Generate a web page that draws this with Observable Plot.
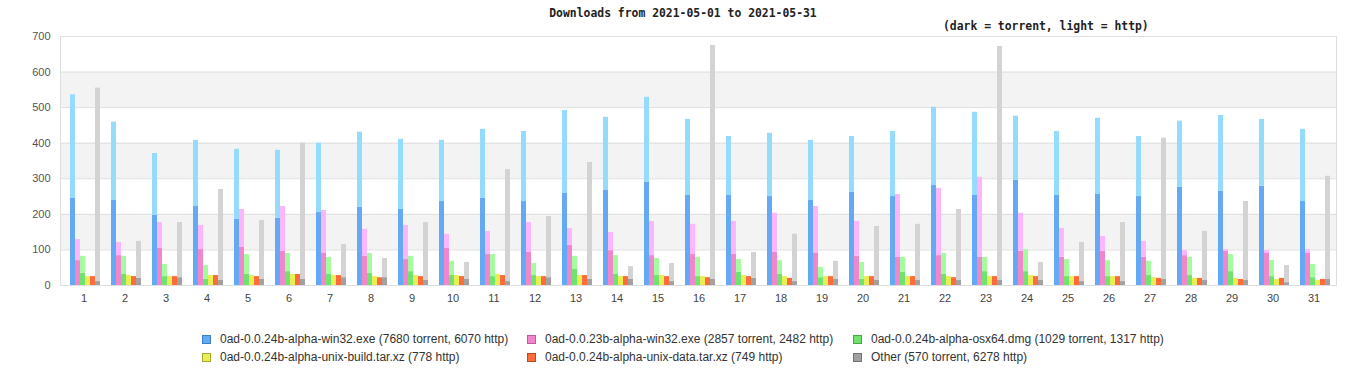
<!DOCTYPE html>
<html>
<head>
<meta charset="utf-8">
<script src="https://cdn.jsdelivr.net/npm/d3@7"></script>
<script src="https://cdn.jsdelivr.net/npm/@observablehq/plot@0.6"></script>
<style>
  html, body { margin: 0; padding: 0; background: #fff; }
  #wrap { position: relative; width: 1366px; height: 380px; overflow: hidden; }
  .title { position: absolute; left: 0; width: 1366px; top: 6px; text-align: center; z-index: 3;
    font: bold 11.4px "DejaVu Sans Mono", "Liberation Mono", monospace; line-height: 14px; color: #222; }
  .subtitle { position: absolute; left: 943px; top: 19px; z-index: 3;
    font: bold 11.4px "DejaVu Sans Mono", "Liberation Mono", monospace; line-height: 14px; color: #222; white-space: nowrap; }
  .layer { position: absolute; left: 0; top: 30px; }
  #bg { z-index: 1; }
  #fg { z-index: 2; }
  #legend { position: absolute; left: 202px; top: 330px; display: grid;
    grid-template-columns: 325px 326px 330px; grid-auto-rows: 18px;
    font: 12px "Liberation Sans", Arial, sans-serif; color: #333; }
  #legend .item { display: flex; align-items: center; white-space: nowrap; line-height: 18px; }
  #legend .sw { width: 7px; height: 7px; border: 1px solid; margin-right: 9px; flex: none; }
</style>
</head>
<body>
<div id="wrap">
  <div class="title" id="title"></div>
  <div class="subtitle" id="subtitle"></div>
  <div class="layer" id="bg"></div>
  <div class="layer" id="fg"></div>
  <div id="legend"></div>
</div>
<script>
const titleText = "Downloads from 2021-05-01 to 2021-05-31";
const subtitleText = "(dark = torrent, light = http)";

const days = d3.range(1, 32);
const yTicks = [0, 100, 200, 300, 400, 500, 600, 700];
const bandRanges = [[100, 200], [300, 400], [500, 600]];

const seriesIds = ["win32", "win32old", "osx64", "unixbuild", "unixdata", "other"];

const win32Torrent = [246,239,197,222,186,189,205,220,214,236,245,236,259,267,290,253,253,250,239,262,250,281,253,296,253,256,250,276,265,279,236];
const win32Http    = [290,220,174,186,197,191,195,211,197,172,194,197,233,206,239,214,166,178,169,157,183,220,234,180,180,214,169,186,213,188,203];

const win32oldTorrent = [70,84,104,101,107,96,90,82,73,104,87,93,113,98,84,87,87,93,90,82,79,84,79,96,79,96,79,84,96,90,90];
const win32oldHttp    = [59,37,73,68,107,126,121,76,96,40,65,84,47,51,96,85,93,110,132,98,177,189,225,107,81,42,45,14,5,8,11];

const osx64Torrent = [35,31,25,17,31,39,31,34,39,28,25,28,45,31,28,25,37,31,22,17,37,31,39,39,25,25,28,28,39,25,22];
const osx64Http    = [47,51,34,39,56,51,48,56,43,40,62,34,37,53,48,54,36,39,29,48,42,59,40,62,48,45,40,51,48,45,37];

const unixBuildHttp = [25,28,25,28,28,31,28,25,28,28,31,25,28,25,28,25,28,25,25,25,25,25,25,28,25,25,22,20,20,17,14];
const unixDataHttp  = [25,25,25,28,25,31,28,22,25,25,28,25,28,25,25,22,25,20,25,25,25,22,25,25,25,25,20,20,17,20,17];

const otherTorrent = [11,20,22,14,17,17,22,22,14,17,11,22,17,17,11,17,20,11,17,14,14,14,14,14,11,11,17,14,14,8,17];
const otherHttp    = [544,104,155,256,166,383,93,54,163,48,315,172,329,36,51,658,73,133,51,152,158,200,658,51,110,166,397,138,222,48,290];

const legendLabels = [
  "0ad-0.0.24b-alpha-win32.exe (7680 torrent, 6070 http)",
  "0ad-0.0.23b-alpha-win32.exe (2857 torrent, 2482 http)",
  "0ad-0.0.24b-alpha-osx64.dmg (1029 torrent, 1317 http)",
  "0ad-0.0.24b-alpha-unix-build.tar.xz (778 http)",
  "0ad-0.0.24b-alpha-unix-data.tar.xz (749 http)",
  "Other (570 torrent, 6278 http)"
];

const colorKeys  = ["win32 torrent","win32 http","win32old torrent","win32old http","osx64 torrent","osx64 http","unixbuild http","unixdata http","other torrent","other http"];
const colorRange = ["#63a9f3","#94dbfe","#f286cd","#fdb6fd","#6ee46f","#a3fd9e","#e9ed56","#fd6d3b","#a1a1a1","#d3d3d3"];
const swatchFill   = ["#63a9f3","#f286cd","#6ee46f","#e9ed56","#fd6d3b","#a1a1a1"];
const swatchBorder = ["#3f7fc4","#c25a9f","#43a845","#a6a92a","#c4461c","#727272"];

// build table
const seriesData = {
  win32: [win32Torrent, win32Http],
  win32old: [win32oldTorrent, win32oldHttp],
  osx64: [osx64Torrent, osx64Http],
  unixbuild: [null, unixBuildHttp],
  unixdata: [null, unixDataHttp],
  other: [otherTorrent, otherHttp]
};
const rows = [];
days.forEach((day, i) => {
  seriesIds.forEach(s => {
    const [t, h] = seriesData[s];
    if (t) rows.push({day, series: s, key: s + " torrent", value: t[i]});
    rows.push({day, series: s, key: s + " http", value: h[i]});
  });
});
const bands = bandRanges.map(([lo, hi]) => ({lo, hi}));

const common = {
  width: 1366, height: 280,
  marginLeft: 60, marginRight: 30, marginTop: 6, marginBottom: 25
};

const bg = Plot.plot({
  ...common,
  style: {background: "#fff", fontFamily: "'Liberation Sans', Arial, sans-serif", fontSize: "11px", color: "#555"},
  y: {domain: [0, 700], ticks: yTicks, tickSize: 0, tickPadding: 10, label: null},
  marks: [
    Plot.barY(bands, {y1: "lo", y2: "hi", fill: "#f3f3f3"}),
    Plot.ruleY(yTicks, {stroke: "#dedede"}),
    Plot.frame({stroke: "#dedede"})
  ]
});
document.getElementById("bg").appendChild(bg);

const fg = Plot.plot({
  ...common,
  style: {background: "transparent", fontFamily: "'Liberation Sans', Arial, sans-serif", fontSize: "11px", color: "#444"},
  facet: {data: rows, x: "day"},
  fx: {domain: days, paddingInner: 0, paddingOuter: 0, axis: "bottom", label: null, tickSize: 0, tickPadding: 9},
  x: {domain: seriesIds, paddingInner: 0, paddingOuter: 1, align: 0.68, axis: null},
  y: {domain: [0, 700], axis: null},
  color: {domain: colorKeys, range: colorRange},
  marks: [
    Plot.barY(rows, {x: "series", y: "value", fill: "key"})
  ]
});
document.getElementById("fg").appendChild(fg);

document.getElementById("title").textContent = titleText;
document.getElementById("subtitle").textContent = subtitleText;

const legend = document.getElementById("legend");
legendLabels.forEach((label, i) => {
  const item = document.createElement("div");
  item.className = "item";
  const sw = document.createElement("span");
  sw.className = "sw";
  sw.style.background = swatchFill[i];
  sw.style.borderColor = swatchBorder[i];
  const tx = document.createElement("span");
  tx.textContent = label;
  item.appendChild(sw);
  item.appendChild(tx);
  legend.appendChild(item);
});
</script>
</body>
</html>
